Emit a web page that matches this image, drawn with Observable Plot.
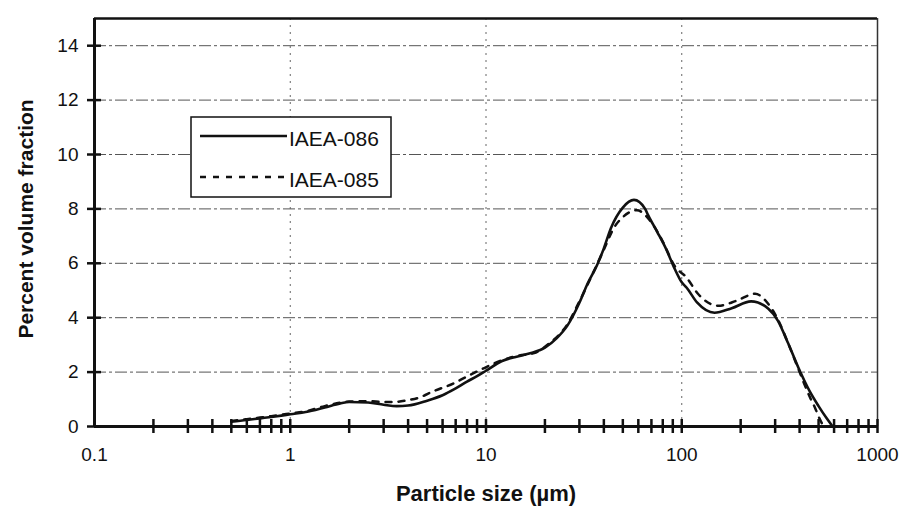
<!DOCTYPE html>
<html><head><meta charset="utf-8">
<script src="https://cdn.jsdelivr.net/npm/d3@7"></script>
<script src="https://cdn.jsdelivr.net/npm/@observablehq/plot@0.6"></script>
<style>
html,body{margin:0;padding:0;background:#fff;}
#wrap{position:relative;width:901px;height:512px;font-family:"Liberation Sans",Arial,sans-serif;}
#legend{position:absolute;left:190px;top:116px;}
</style></head><body>
<div id="wrap"><div id="chart"></div><svg id="legend" width="203" height="83"></svg></div>
<script>
// ---- data ----
const seriesNames = ["IAEA-086", "IAEA-085"];
const size086 = [0.5,0.6,0.7,0.8,0.9,1,1.2,1.5,1.8,2,2.5,3,3.5,4,5,6,7,8,9,10,12,14,17,20,23,26,30,33,37,40,43.5,50,57,65,67,75,83.5,92,100,106,120,147,180,226,277,309,350,395,450,500,550,590];
const pct086  = [0.18,0.24,0.3,0.35,0.4,0.45,0.53,0.7,0.85,0.9,0.88,0.8,0.75,0.77,0.95,1.15,1.4,1.65,1.85,2.05,2.4,2.55,2.7,2.9,3.25,3.7,4.55,5.25,5.95,6.55,7.3,8.05,8.33,8.0,7.8,7.15,6.5,5.8,5.3,5.1,4.55,4.18,4.35,4.6,4.33,3.9,3.05,2.15,1.3,0.75,0.3,0];
const size085 = [0.5,0.6,0.7,0.8,0.9,1,1.2,1.5,1.8,2,2.5,3,3.5,4,4.5,5.4,6.8,8.2,9.8,12,14.5,17.6,21,26,30,35,40,45,50,59,70,80,92,106,121,154,190,237,277,309,350,395,450,480,505,530];
const pct085  = [0.2,0.27,0.33,0.38,0.43,0.48,0.56,0.75,0.88,0.92,0.93,0.9,0.91,0.97,1.05,1.3,1.58,1.88,2.15,2.43,2.6,2.7,3.05,3.75,4.6,5.6,6.5,7.3,7.7,7.95,7.5,6.8,5.9,5.47,4.88,4.44,4.62,4.88,4.5,3.95,3.05,2.1,1.1,0.68,0.3,0];

const xDomain = [0.1, 1000];
const yDomain = [0, 15];
const xMajor = [0.1, 1, 10, 100, 1000];
const xMajorLabels = ["0.1", "1", "10", "100", "1000"];
const xMinor = [0.2,0.3,0.4,0.5,0.6,0.7,0.8,0.9,1,2,3,4,5,6,7,8,9,10,20,30,40,50,60,70,80,90,100,200,300,400,500,600,700,800,900,1000];
const yTicks = [0, 2, 4, 6, 8, 10, 12, 14];
const yGrid = [2, 4, 6, 8, 10, 12, 14];
const xGrid = [1, 10, 100];
const xTitle = "Particle size (µm)";
const yTitle = "Percent volume fraction";

const d086 = size086.map((s, i) => ({size: s, pct: pct086[i]}));
const d085 = size085.map((s, i) => ({size: s, pct: pct085[i]}));

const W = 901, H = 512, mL = 94, mR = 24, mT = 18, mB = 86;
const innerW = W - mL - mR, innerH = H - mT - mB;
const font = '"Liberation Sans", Arial, sans-serif';

const chart = Plot.plot({
  width: W, height: H,
  marginLeft: mL, marginRight: mR, marginTop: mT, marginBottom: mB,
  style: {fontFamily: font, fontSize: "19px", color: "#111", background: "white"},
  x: {type: "log", domain: xDomain, label: null},
  y: {domain: yDomain, label: null},
  marks: [
    Plot.ruleY(yGrid, {stroke: "#555", strokeWidth: 1, strokeDasharray: "12,3,3,3"}),
    Plot.ruleX(xGrid, {stroke: "#666", strokeWidth: 1, strokeDasharray: "2,5"}),
    Plot.ruleY([yDomain[1]], {stroke: "#111", strokeWidth: 2.5}),
    Plot.ruleX([xDomain[1]], {stroke: "#333", strokeWidth: 1.5}),
    Plot.line(d085, {x: "size", y: "pct", curve: "monotone-x", stroke: "#111", strokeWidth: 2.5, strokeDasharray: "6,7"}),
    Plot.line(d086, {x: "size", y: "pct", curve: "monotone-x", stroke: "#111", strokeWidth: 2.6}),
    Plot.ruleY([yDomain[0]], {stroke: "#111", strokeWidth: 3}),
    Plot.ruleX([xDomain[0]], {stroke: "#111", strokeWidth: 3}),
    Plot.tickX(xMinor, {x: d => d, stroke: "#111", strokeWidth: 2.5, insetTop: innerH - 7, insetBottom: -7}),
    Plot.tickY(yTicks, {y: d => d, stroke: "#111", strokeWidth: 2.5, insetLeft: -7, insetRight: innerW - 7}),
    Plot.axisX({ticks: xMajor, tickSize: 0, tickPadding: 21, tickFormat: d => xMajorLabels[xMajor.indexOf(d)], fontSize: 19, label: null}),
    Plot.axisY({ticks: yTicks, tickSize: 0, tickPadding: 16, fontSize: 19, label: null}),
    Plot.text([xTitle], {text: d => d, frameAnchor: "bottom", dy: 67, fontSize: 22, fontWeight: "bold", lineAnchor: "middle", textAnchor: "middle"}),
    Plot.text([yTitle], {text: d => d, frameAnchor: "left", rotate: -90, dx: -68, dy: -3.5, fontSize: 21, fontWeight: "bold", lineAnchor: "middle", textAnchor: "middle"})
  ]
});
document.getElementById("chart").appendChild(chart);

// ---- legend (inside plot area) ----
const lg = d3.select("#legend");
lg.append("rect").attr("x", 1).attr("y", 1).attr("width", 200).attr("height", 80)
  .attr("fill", "white").attr("stroke", "#111").attr("stroke-width", 1.5);
const styles = [{dash: null, w: 2.6}, {dash: "6,7", w: 2.5}];
seriesNames.forEach((name, i) => {
  const y = 20 + i * 41;
  lg.append("line").attr("x1", 10).attr("x2", 97).attr("y1", y).attr("y2", y)
    .attr("stroke", "#111").attr("stroke-width", styles[i].w)
    .attr("stroke-dasharray", styles[i].dash);
  lg.append("text").attr("x", 99).attr("y", y + 10).attr("font-size", 21)
    .attr("font-family", font).attr("fill", "#111").text(name);
});
</script>
</body></html>
